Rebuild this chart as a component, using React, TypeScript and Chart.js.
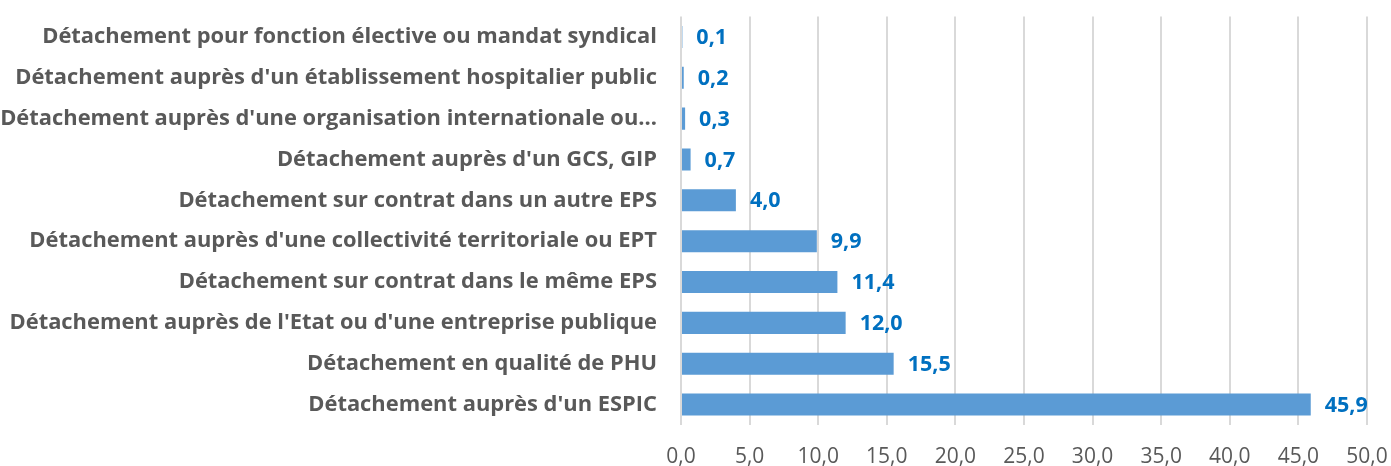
import React, { useEffect, useRef } from "react";
import { Chart, registerables } from "chart.js";

Chart.register(...registerables);

const categories: string[] = [
  "Détachement pour fonction élective ou mandat syndical",
  "Détachement auprès d'un établissement hospitalier public",
  "Détachement auprès d'une organisation internationale ou…",
  "Détachement auprès d'un GCS, GIP",
  "Détachement sur contrat dans un autre EPS",
  "Détachement auprès d'une collectivité territoriale ou EPT",
  "Détachement sur contrat dans le même EPS",
  "Détachement auprès de l'Etat ou d'une entreprise publique",
  "Détachement en qualité de PHU",
  "Détachement auprès d'un ESPIC",
];

const values: number[] = [0.1, 0.2, 0.3, 0.7, 4.0, 9.9, 11.4, 12.0, 15.5, 45.9];

const axisMin = 0;
const axisMax = 50;
const axisStep = 5;

const FONT = "'Open Sans', 'Noto Sans', sans-serif";
const fmt = (v: number) => v.toFixed(1).replace(".", ",");

const dataLabelPlugin = {
  id: "dataLabels",
  afterDatasetsDraw(chart: any) {
    const ctx = chart.ctx;
    const meta = chart.getDatasetMeta(0);
    ctx.save();
    ctx.font = `bold 21.5px ${FONT}`;
    ctx.fillStyle = "#0070C0";
    ctx.textAlign = "left";
    ctx.textBaseline = "middle";
    meta.data.forEach((bar: any, i: number) => {
      ctx.fillText(fmt(values[i]), bar.x + 14, bar.y + 1);
    });
    ctx.restore();
  },
};

export default function App() {
  const ref = useRef<HTMLCanvasElement | null>(null);
  useEffect(() => {
    document.body.style.margin = "0";
    const chart = new Chart(ref.current as HTMLCanvasElement, {
      type: "bar",
      data: {
        labels: categories,
        datasets: [
          {
            data: values,
            backgroundColor: "#5B9BD5",
            borderWidth: 0,
            categoryPercentage: 1,
            barPercentage: 0.54,
          },
        ],
      },
      options: {
        indexAxis: "y",
        animation: false,
        responsive: false,
        maintainAspectRatio: false,
        layout: { padding: { top: 16.5, right: 24, left: 0, bottom: 0 } },
        plugins: {
          legend: { display: false },
          tooltip: { enabled: false },
        },
        scales: {
          x: {
            min: axisMin,
            max: axisMax,
            ticks: {
              stepSize: axisStep,
              callback: (v: any) => fmt(Number(v)),
              color: "#595959",
              font: { family: FONT, size: 21 },
              padding: 19,
              maxRotation: 0,
            },
            grid: { color: "#D9D9D9", lineWidth: 2, drawTicks: false },
            border: { display: false },
            afterFit: (s: any) => {
              s.height = 41;
              s.paddingLeft = 0;
              s.paddingRight = 0;
            },
          },
          y: {
            ticks: {
              color: "#595959",
              font: { family: FONT, size: 21.9, weight: "bold" },
              padding: 24,
              autoSkip: false,
            },
            grid: { display: false, drawTicks: false },
            border: { display: false },
            afterFit: (s: any) => {
              s.width = 681;
              s.paddingTop = 0;
              s.paddingBottom = 0;
            },
          },
        },
      },
      plugins: [dataLabelPlugin],
    });
    return () => chart.destroy();
  }, []);
  return (
    <div style={{ position: "absolute", left: 0, top: 0, width: 1391, height: 466 }}>
      <canvas ref={ref} width={1391} height={466} style={{ width: 1391, height: 466 }} />
    </div>
  );
}
